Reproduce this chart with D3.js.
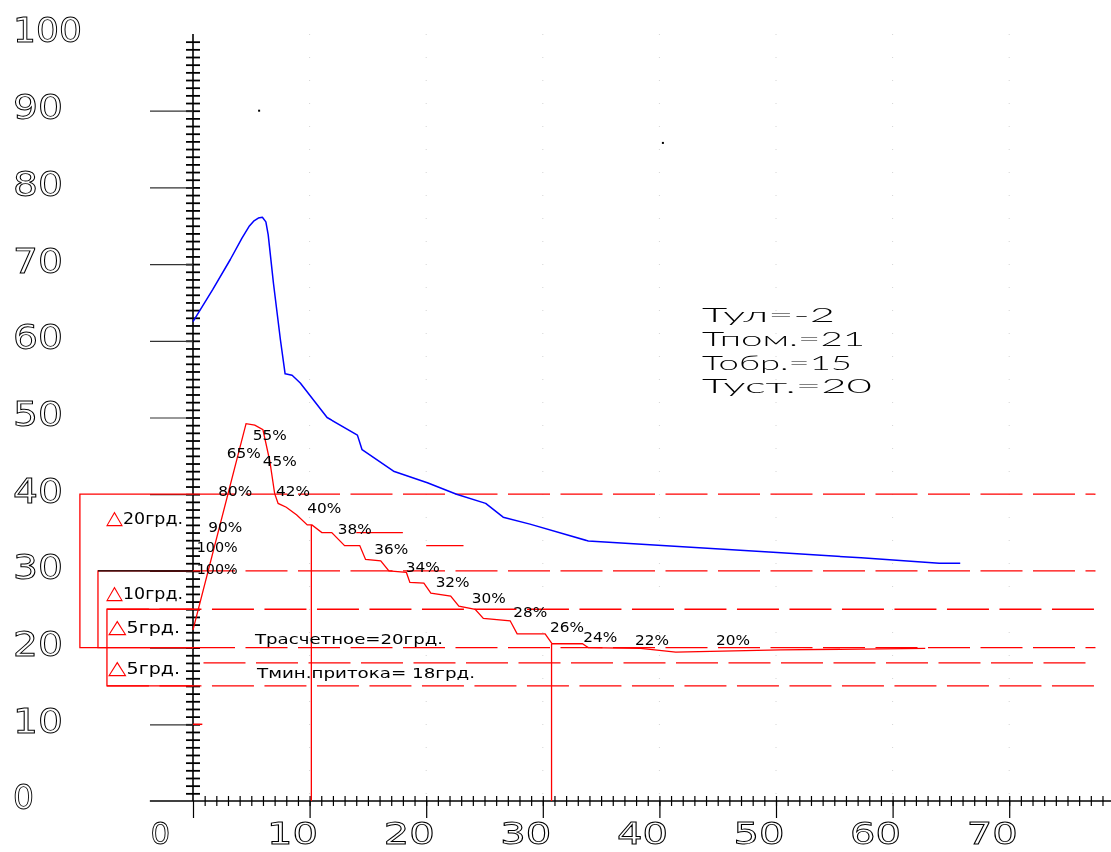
<!DOCTYPE html>
<html>
<head>
<meta charset="utf-8">
<script src="https://cdn.jsdelivr.net/npm/d3@7"></script>
<style>
  body { margin: 0; background: #fff; }
  svg { display: block; }
  .big { font-family: "DejaVu Sans", sans-serif; font-size: 31px; fill: none; stroke: #000; stroke-width: 0.9; }
  .cond { font-family: Lato, "DejaVu Sans", sans-serif; font-weight: 300; font-size: 19.5px; fill: #000; }
  .small { font-family: "DejaVu Sans", sans-serif; font-size: 14px; fill: #000; }
</style>
</head>
<body>
<svg id="chart" width="1111" height="852"></svg>
<script>
(function () {
  'use strict';

  // supply temperature curve (blue)
  var blueX = [0, 1.7, 3.2, 4.2, 4.8, 5.2, 5.6, 5.95, 6.25, 6.45, 6.9, 7.5, 7.9, 8.5, 9.2, 11.5, 14.1, 14.5, 17.2, 20.1, 22.6, 25.1, 26.6, 28.9, 33.9, 50.1, 57.3, 64.0, 65.8];
  var blueY = [62.5, 66.7, 70.6, 73.4, 74.9, 75.6, 76.0, 76.1, 75.5, 73.8, 67.5, 60.1, 55.7, 55.5, 54.5, 50.0, 47.7, 45.8, 43.0, 41.5, 40.0, 38.8, 37.0, 36.1, 33.9, 32.4, 31.7, 31.0, 31.0];

  // room temperature curve (red, stepped)
  var redX = [0, 4.55, 5.3, 6.0, 6.6, 7.0, 7.3, 8.0, 8.9, 9.8, 10.2, 11.05, 11.9, 13.0, 14.3, 14.8, 16.1, 16.8, 18.3, 18.6, 19.8, 20.4, 22.1, 22.8, 24.2, 24.9, 27.2, 27.8, 30.2, 30.8, 33.4, 33.9, 38.4, 41.4, 50.4, 62.8];
  var redY = [22.3, 49.2, 49.0, 48.4, 44.2, 40.1, 38.8, 38.3, 37.3, 36.0, 36.0, 35.0, 35.0, 33.3, 33.3, 31.5, 31.3, 30.0, 29.8, 28.5, 28.4, 27.1, 26.7, 25.4, 25.0, 23.8, 23.5, 21.8, 21.8, 20.5, 20.5, 20.0, 19.9, 19.4, 19.7, 19.9];

  // valve opening labels along the red curve
  var pctText = ['55%', '65%', '45%', '80%', '42%', '40%', '90%', '38%', '100%', '36%', '100%', '34%', '32%', '30%', '28%', '26%', '24%', '22%', '20%'];
  var pctX = [5.12, 2.89, 5.98, 2.17, 7.12, 9.80, 1.31, 12.41, 0.32, 15.55, 0.32, 18.24, 20.81, 23.90, 27.47, 30.62, 33.47, 37.91, 44.85];
  var pctY = [47.07, 44.76, 43.72, 39.77, 39.77, 37.51, 35.11, 34.81, 32.50, 32.20, 29.60, 29.82, 27.86, 25.75, 24.03, 22.07, 20.77, 20.34, 20.34];

  // drop lines from the curve to the x axis
  var dropX = [10.15, 30.75];
  var dropY = [36.0, 20.5];

  // short leftover segments
  var segY = [35.0, 33.3];
  var segFrom = [14.0, 20.0];
  var segTo = [18.0, 23.2];

  // horizontal limit lines
  var levelY = [40, 30, 25, 20, 18, 15];
  var levelFrom = [0, 0, -7.38, 0, 0.9, -7.38];
  var levelTo = 77.4;

  // brackets on the left
  var bracketX = [-9.7, -8.15, -7.38];
  var bracketLo = [20, 20, 15];
  var bracketHi = [40, 30, 25];
  var bracketText = ['20грд.', '10грд.', '5грд.', '5грд.'];
  var bracketTextY = [36.1, 26.4, 21.86, 16.6];

  var noteText = ['Трасчетное=20грд.', 'Тмин.притока= 18грд.'];
  var noteX = [5.32, 5.49];
  var noteY = [20.47, 16.04];

  var conditions = ['Тул=-2', 'Тпом.=21', 'Тобр.=15', 'Туст.=20'];

  var xTicks = [0, 10, 20, 30, 40, 50, 60, 70];
  var yTicks = [0, 10, 20, 30, 40, 50, 60, 70, 80, 90, 100];

  var strayX = [5.67, 40.3];
  var strayY = [90.0, 85.8];

  var svg = d3.select('#chart');
  var x = d3.scaleLinear().domain([0, 70]).range([193, 1009.2]);
  var y = d3.scaleLinear().domain([0, 100]).range([801, 34]);

  // plain filter: forces greyscale text smoothing
  svg.append('defs').append('filter').attr('id', 'gs')
    .append('feOffset').attr('dx', 0).attr('dy', 0);

  // faint dotted grid
  svg.append('g').selectAll('line')
    .data(d3.range(10, 80, 10))
    .join('line')
    .attr('x1', function (d) { return x(d); })
    .attr('x2', function (d) { return x(d); })
    .attr('y1', y(100)).attr('y2', y(0))
    .attr('stroke', '#d4d4d4')
    .attr('stroke-width', 1)
    .attr('stroke-dasharray', '1,22');

  svg.append('g').selectAll('rect')
    .data(d3.zip(strayX, strayY))
    .join('rect')
    .attr('x', function (d) { return x(d[0]) - 1; })
    .attr('y', function (d) { return y(d[1]) - 1; })
    .attr('width', 2).attr('height', 2)
    .attr('fill', '#000');

  // x axis
  svg.append('line')
    .attr('x1', x(-3.7)).attr('x2', 1111)
    .attr('y1', y(0)).attr('y2', y(0))
    .attr('stroke', '#000').attr('stroke-width', 1.6);

  var xMinor = svg.append('g')
    .attr('transform', 'translate(0,' + (y(0) - 5) + ')')
    .call(d3.axisBottom(x).tickValues(d3.range(1, 79)).tickSize(10).tickFormat(''));
  xMinor.select('.domain').remove();
  xMinor.selectAll('line').attr('stroke-width', 1.2);

  var xMajor = svg.append('g')
    .attr('transform', 'translate(0,' + y(0) + ')')
    .attr('filter', 'url(#gs)')
    .call(d3.axisBottom(x).tickValues(xTicks).tickSize(17).tickFormat(d3.format('d')));
  xMajor.select('.domain').remove();
  xMajor.selectAll('line').attr('stroke-width', 1.2);
  xMajor.selectAll('text')
    .attr('class', 'big')
    .attr('text-anchor', 'start')
    .attr('x', -43)
    .attr('y', 43)
    .attr('dy', null)
    .each(function (d) {
      var n = String(d).length;
      if (n > 1) d3.select(this).attr('textLength', 51).attr('lengthAdjust', 'spacingAndGlyphs');
    });

  // y axis
  svg.append('line')
    .attr('x1', x(0)).attr('x2', x(0))
    .attr('y1', y(100)).attr('y2', y(0))
    .attr('stroke', '#000').attr('stroke-width', 1.6);

  var yMinor = svg.append('g')
    .attr('transform', 'translate(' + (x(0) + 7) + ',0)')
    .call(d3.axisLeft(y).tickValues(d3.range(1, 100)).tickSize(14).tickFormat(''));
  yMinor.select('.domain').remove();
  yMinor.selectAll('line').attr('stroke-width', 1.8);

  var yMajor = svg.append('g')
    .attr('transform', 'translate(' + x(0) + ',0)')
    .attr('filter', 'url(#gs)')
    .call(d3.axisLeft(y).tickValues(yTicks).tickSize(43).tickFormat(d3.format('d')));
  yMajor.select('.domain').remove();
  yMajor.selectAll('line')
    .attr('stroke-width', 1.2)
    .attr('stroke', '#333')
    .attr('display', function (d) { return d === 100 || d === 0 ? 'none' : null; });
  yMajor.selectAll('text')
    .attr('class', 'big')
    .style('font-size', '33px')
    .attr('text-anchor', 'start')
    .attr('x', 13 - x(0))
    .attr('dy', '0.24em')
    .each(function (d) {
      var n = String(d).length;
      if (n > 1) d3.select(this).attr('textLength', n === 2 ? 50 : 69).attr('lengthAdjust', 'spacingAndGlyphs');
    });

  // limit lines
  svg.append('g').selectAll('line')
    .data(d3.range(levelY.length))
    .join('line')
    .attr('x1', function (i) { return x(levelFrom[i]); })
    .attr('x2', x(levelTo))
    .attr('y1', function (i) { return y(levelY[i]); })
    .attr('y2', function (i) { return y(levelY[i]); })
    .attr('stroke', '#ff0000')
    .attr('stroke-width', 1.3)
    .attr('stroke-dasharray', '42,10.5');

  // brackets
  svg.append('g').selectAll('path')
    .data(d3.range(bracketX.length))
    .join('path')
    .attr('d', function (i) {
      return d3.line()([
        [x(0), y(bracketHi[i])], [x(bracketX[i]), y(bracketHi[i])],
        [x(bracketX[i]), y(bracketLo[i])], [x(0), y(bracketLo[i])]
      ]);
    })
    .attr('fill', 'none')
    .attr('stroke', '#ff0000')
    .attr('stroke-width', 1.3);

  svg.append('line')
    .attr('x1', x(bracketX[1])).attr('x2', x(0))
    .attr('y1', y(bracketHi[1])).attr('y2', y(bracketHi[1]))
    .attr('stroke', '#000').attr('stroke-width', 1.3);

  var bt = svg.append('g').attr('filter', 'url(#gs)').selectAll('text')
    .data(d3.range(bracketText.length))
    .join('text')
    .attr('class', 'small')
    .style('font-size', '15px')
    .attr('x', function (i) { return x(i < 2 ? -7.46 : -7.29); })
    .attr('y', function (i) { return y(bracketTextY[i]); })
    .attr('textLength', function (i) { return i < 2 ? 77 : 72; })
    .attr('lengthAdjust', 'spacingAndGlyphs');
  bt.append('tspan').attr('fill', '#ff0000').style('font-size', '19px').text('△');
  bt.append('tspan').text(function (i) { return bracketText[i]; });

  // drop lines and leftover segments
  svg.append('g').selectAll('line')
    .data(d3.range(dropX.length))
    .join('line')
    .attr('x1', function (i) { return x(dropX[i]); })
    .attr('x2', function (i) { return x(dropX[i]); })
    .attr('y1', function (i) { return y(dropY[i]); })
    .attr('y2', y(0))
    .attr('stroke', '#ff0000').attr('stroke-width', 1.3);

  svg.append('g').selectAll('line')
    .data(d3.range(segY.length))
    .join('line')
    .attr('x1', function (i) { return x(segFrom[i]); })
    .attr('x2', function (i) { return x(segTo[i]); })
    .attr('y1', function (i) { return y(segY[i]); })
    .attr('y2', function (i) { return y(segY[i]); })
    .attr('stroke', '#ff0000').attr('stroke-width', 1.3);

  svg.append('line')
    .attr('x1', x(0)).attr('x2', x(0.8))
    .attr('y1', y(10)).attr('y2', y(10))
    .attr('stroke', '#ff0000').attr('stroke-width', 1.5);

  // curves
  var line = d3.line()
    .x(function (d) { return x(d[0]); })
    .y(function (d) { return y(d[1]); });

  svg.append('path')
    .datum(d3.zip(blueX, blueY))
    .attr('d', line)
    .attr('fill', 'none')
    .attr('stroke', '#0000ff')
    .attr('stroke-width', 1.5)
    .attr('stroke-linejoin', 'round');

  svg.append('path')
    .datum(d3.zip(redX, redY))
    .attr('d', line)
    .attr('fill', 'none')
    .attr('stroke', '#ff0000')
    .attr('stroke-width', 1.3);

  // labels
  svg.append('g').attr('filter', 'url(#gs)').selectAll('text')
    .data(d3.range(pctText.length))
    .join('text')
    .attr('class', 'small')
    .attr('x', function (i) { return x(pctX[i]); })
    .attr('y', function (i) { return y(pctY[i]); })
    .attr('textLength', function (i) { return pctText[i].length === 4 ? 41 : 34; })
    .attr('lengthAdjust', 'spacingAndGlyphs')
    .text(function (i) { return pctText[i]; });

  svg.append('g').attr('filter', 'url(#gs)').selectAll('text')
    .data(d3.range(noteText.length))
    .join('text')
    .attr('class', 'small')
    .attr('x', function (i) { return x(noteX[i]); })
    .attr('y', function (i) { return y(noteY[i]); })
    .attr('textLength', function (i) { return i === 0 ? 188 : 218; })
    .attr('lengthAdjust', 'spacingAndGlyphs')
    .text(function (i) { return noteText[i]; });

  var condWidths = [133, 163, 150, 170];
  svg.append('g').attr('filter', 'url(#gs)').selectAll('text')
    .data(conditions)
    .join('text')
    .attr('class', 'cond')
    .attr('x', 702)
    .attr('y', function (d, i) { return 322 + i * 23.8; })
    .attr('textLength', function (d, i) { return condWidths[i]; })
    .attr('lengthAdjust', 'spacingAndGlyphs')
    .text(function (d) { return d; });
}());
</script>
</body>
</html>
